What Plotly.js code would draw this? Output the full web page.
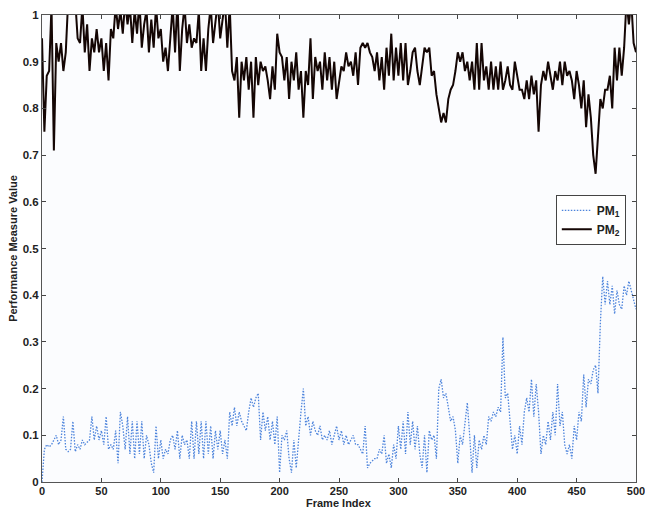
<!DOCTYPE html>
<html>
<head>
<meta charset="utf-8">
<script src="https://cdn.plot.ly/plotly-3.0.1.min.js"></script>
<style>
  html, body { margin: 0; padding: 0; background: #ffffff; }
  #chart { width: 645px; height: 509px; }
</style>
</head>
<body>
<div id="chart"></div>
<script>
// Frame indices sampled every 2 frames (0..500)
const frameStep = 2;
const frameMax = 500;

const pm2 = [
  0.95,0.75,0.87,0.88,1.02,0.71,0.94,0.90,0.94,0.88,
  0.92,1.03,1.04,1.02,1.03,0.95,0.94,1.02,0.92,0.98,
  0.88,0.95,0.92,0.97,0.92,0.95,0.88,0.94,0.86,0.97,
  0.95,1.02,0.97,1.01,0.96,1.03,0.98,1.02,0.94,1.01,
  0.96,1.03,0.93,0.98,1.01,0.92,0.99,0.93,1.02,0.95,
  0.97,0.90,0.93,0.88,0.95,1.02,0.92,1.03,0.88,0.97,
  1.02,0.94,0.98,0.93,0.95,0.94,1.01,0.88,0.95,0.88,
  0.97,1.02,0.94,0.98,1.03,0.95,0.99,1.03,0.93,1.02,
  0.88,0.86,0.91,0.78,0.90,0.86,0.91,0.84,0.90,0.78,
  0.91,0.85,0.90,0.88,0.89,0.86,0.82,0.89,0.84,0.96,
  0.92,0.91,0.86,0.91,0.82,0.90,0.86,0.92,0.84,0.88,
  0.78,0.88,0.85,0.95,0.82,0.91,0.88,0.90,0.84,0.92,
  0.86,0.91,0.84,0.90,0.82,0.86,0.89,0.88,0.92,0.89,
  0.90,0.87,0.92,0.85,0.93,0.94,0.93,0.94,0.92,0.91,
  0.88,0.92,0.86,0.91,0.84,0.93,0.87,0.96,0.86,0.93,
  0.87,0.94,0.86,0.94,0.85,0.88,0.92,0.93,0.88,0.85,
  0.89,0.93,0.92,0.93,0.87,0.88,0.83,0.80,0.77,0.79,
  0.77,0.82,0.84,0.85,0.88,0.92,0.90,0.92,0.88,0.90,
  0.86,0.90,0.84,0.94,0.84,0.94,0.86,0.89,0.84,0.90,
  0.84,0.89,0.84,0.90,0.84,0.86,0.89,0.85,0.84,0.90,
  0.87,0.84,0.84,0.82,0.86,0.82,0.87,0.83,0.86,0.75,
  0.85,0.88,0.86,0.90,0.87,0.84,0.88,0.86,0.90,0.85,
  0.90,0.87,0.88,0.86,0.82,0.88,0.85,0.80,0.86,0.76,
  0.83,0.78,0.70,0.66,0.74,0.82,0.80,0.84,0.84,0.87,
  0.80,0.93,0.86,0.93,0.87,0.93,1.03,0.98,1.03,0.94,
  0.92
];

const pm1 = [
  0.00,0.07,0.08,0.075,0.08,0.09,0.10,0.08,0.09,0.14,
  0.07,0.065,0.07,0.13,0.065,0.08,0.07,0.09,0.08,0.085,
  0.09,0.14,0.09,0.12,0.09,0.11,0.08,0.14,0.07,0.08,
  0.07,0.11,0.04,0.15,0.12,0.07,0.14,0.06,0.13,0.05,
  0.13,0.06,0.13,0.05,0.10,0.08,0.04,0.02,0.12,0.05,
  0.09,0.05,0.07,0.06,0.09,0.10,0.07,0.11,0.05,0.10,
  0.08,0.09,0.05,0.13,0.05,0.13,0.06,0.13,0.05,0.13,
  0.06,0.12,0.05,0.11,0.07,0.11,0.06,0.09,0.05,0.15,
  0.12,0.16,0.12,0.15,0.13,0.12,0.11,0.15,0.18,0.16,
  0.18,0.19,0.09,0.15,0.11,0.14,0.09,0.13,0.08,0.14,
  0.02,0.10,0.09,0.11,0.05,0.02,0.09,0.03,0.10,0.15,
  0.20,0.12,0.14,0.10,0.13,0.11,0.10,0.12,0.09,0.10,
  0.09,0.11,0.08,0.10,0.12,0.09,0.11,0.08,0.10,0.08,
  0.09,0.10,0.08,0.08,0.07,0.06,0.12,0.03,0.04,0.045,
  0.05,0.05,0.07,0.06,0.10,0.04,0.06,0.03,0.08,0.05,
  0.12,0.07,0.13,0.06,0.15,0.08,0.13,0.07,0.12,0.06,
  0.03,0.10,0.02,0.11,0.09,0.10,0.05,0.20,0.22,0.18,
  0.19,0.16,0.13,0.14,0.11,0.04,0.10,0.08,0.12,0.17,
  0.10,0.02,0.10,0.03,0.09,0.07,0.10,0.08,0.14,0.13,
  0.15,0.14,0.16,0.15,0.31,0.18,0.19,0.13,0.07,0.10,
  0.06,0.12,0.08,0.15,0.18,0.15,0.22,0.14,0.21,0.15,
  0.06,0.10,0.08,0.13,0.09,0.15,0.10,0.21,0.12,0.15,
  0.08,0.06,0.08,0.05,0.12,0.09,0.15,0.13,0.23,0.16,
  0.22,0.21,0.24,0.25,0.19,0.34,0.44,0.38,0.43,0.38,
  0.42,0.36,0.41,0.38,0.37,0.42,0.40,0.43,0.41,0.39,
  0.37
];

const xTicks = [0, 50, 100, 150, 200, 250, 300, 350, 400, 450, 500];
const yTicks = [0, 0.1, 0.2, 0.3, 0.4, 0.5, 0.6, 0.7, 0.8, 0.9, 1];
const yTickText = ['0', '0.1', '0.2', '0.3', '0.4', '0.5', '0.6', '0.7', '0.8', '0.9', '1'];
const xTitle = 'Frame Index';
const yTitle = 'Performance Measure Value';

const frames = pm2.map((_, i) => i * frameStep);

const FONT = 'Liberation Sans, Arial, sans-serif';
const xTickFont = { family: FONT, size: 11, color: '#222222', weight: 'bold' };
const yTickFont = { family: FONT, size: 11.5, color: '#222222', weight: 'bold' };
const titleFont = { family: FONT, size: 11, color: '#222222', weight: 'bold' };

const traces = [
  {
    x: frames, y: pm1, type: 'scatter', mode: 'lines', name: 'PM<sub>1</sub>',
    line: { color: '#4d84dc', width: 1.3, dash: '1.5px,1.5px' }
  },
  {
    x: frames, y: pm2, type: 'scatter', mode: 'lines', name: 'PM<sub>2</sub>',
    line: { color: '#140604', width: 2 }
  }
];

const layout = {
  width: 645, height: 509,
  margin: { l: 42, r: 9, t: 15, b: 27 },
  paper_bgcolor: '#ffffff',
  plot_bgcolor: '#fbfcfe',
  showlegend: true,
  legend: {
    x: 0.865, y: 0.615, xanchor: 'left', yanchor: 'top',
    bgcolor: '#ffffff', bordercolor: '#444444', borderwidth: 1,
    font: { family: FONT, size: 12, color: '#222222', weight: 'bold' },
    itemwidth: 30, tracegroupgap: 0
  },
  xaxis: {
    range: [0, frameMax], tickvals: xTicks, ticktext: xTicks.map(String),
    ticks: 'inside', ticklen: 4, tickcolor: '#444444', tickwidth: 1,
    showline: true, linecolor: '#555555', linewidth: 1, mirror: 'ticks',
    showgrid: false, zeroline: false, automargin: false,
    ticklabeloverflow: 'allow', ticklabelstandoff: -1,
    tickfont: xTickFont
  },
  yaxis: {
    range: [0, 1], tickvals: yTicks, ticktext: yTickText,
    ticks: 'inside', ticklen: 4, tickcolor: '#444444', tickwidth: 1,
    showline: true, linecolor: '#555555', linewidth: 1, mirror: 'ticks',
    showgrid: false, zeroline: false, automargin: false,
    ticklabeloverflow: 'allow',
    tickfont: yTickFont,
    title: { text: yTitle, font: titleFont, standoff: 2 }
  },
  annotations: [
    {
      text: xTitle, xref: 'paper', yref: 'paper', x: 0.5, y: 0,
      xanchor: 'center', yanchor: 'top', yshift: -13.5, showarrow: false,
      borderpad: 0, font: titleFont
    }
  ]
};

Plotly.newPlot('chart', traces, layout, { displayModeBar: false, staticPlot: true });
</script>
</body>
</html>
